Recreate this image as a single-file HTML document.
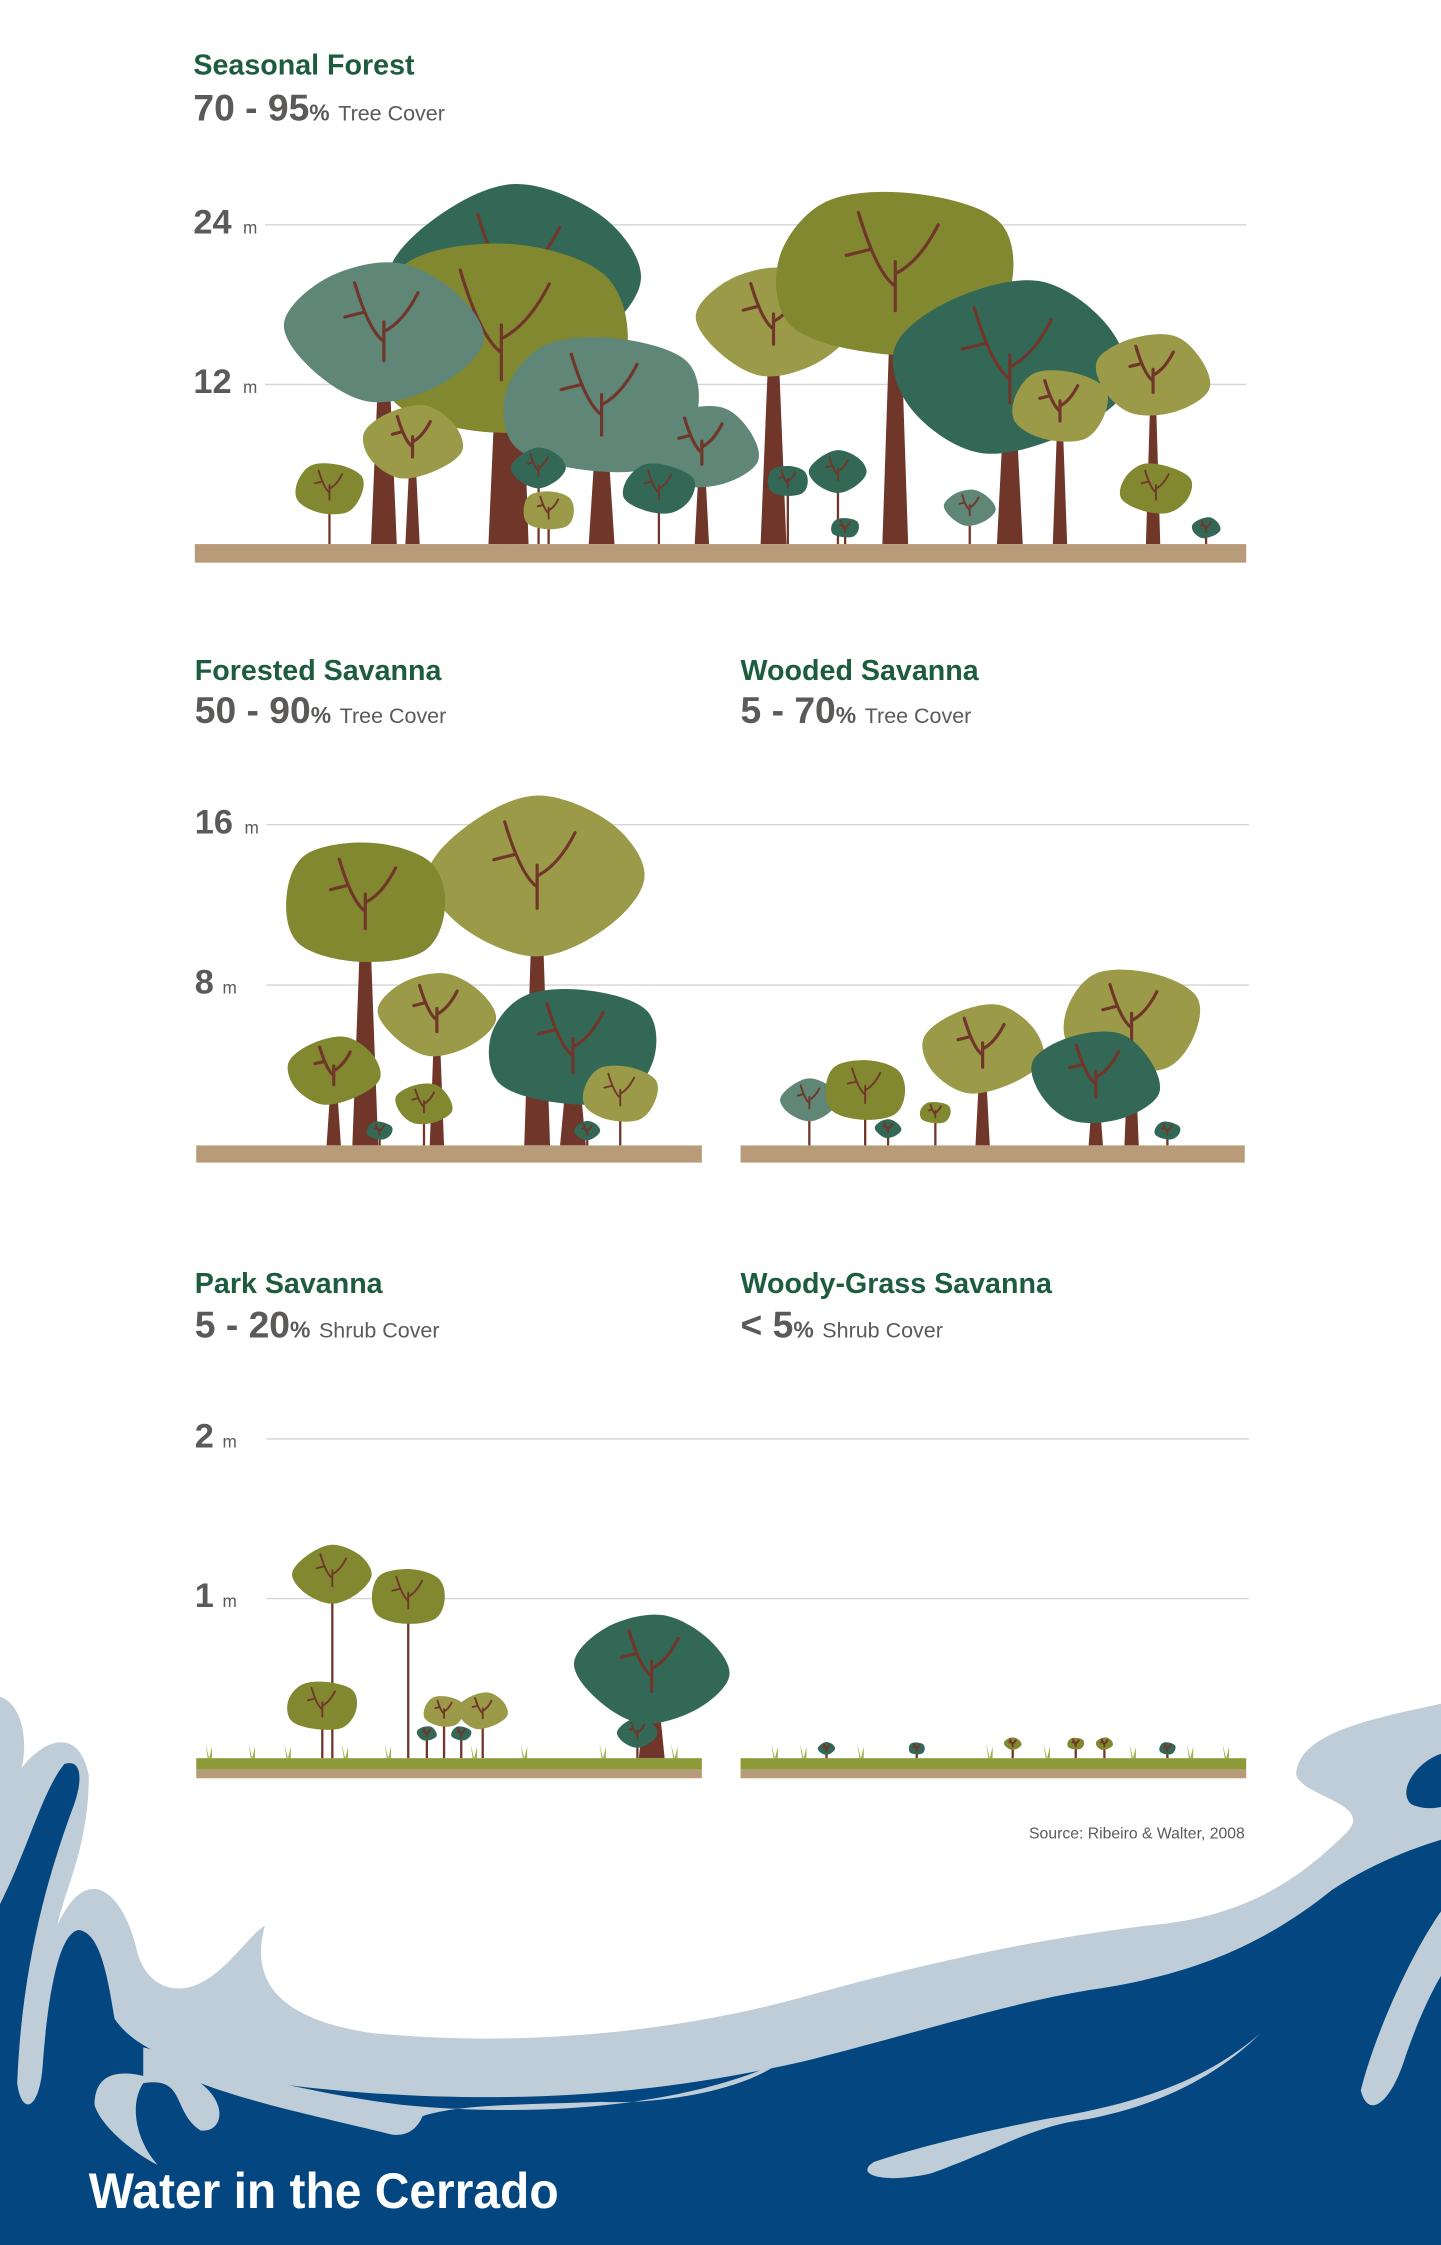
<!DOCTYPE html>
<html><head><meta charset="utf-8">
<style>
html,body{margin:0;padding:0;background:#fff;}
svg{display:block;}
text{font-family:"Liberation Sans",sans-serif;}
</style></head>
<body>
<svg id="main" width="1441" height="2245" viewBox="0 0 1006 1568" preserveAspectRatio="none" xmlns="http://www.w3.org/2000/svg">
  <rect width="1006" height="1568" fill="#fff"/>
  <g>
    <path fill="#bfcdd8" d="M0,1185 C15,1190 20,1215 15,1235 C30,1215 55,1205 62,1240 C62,1290 45,1320 40,1345 C60,1300 85,1320 95,1360 C100,1385 120,1395 140,1385 C160,1375 175,1350 185,1345 C175,1380 190,1410 260,1420 C360,1430 470,1420 560,1395 C650,1370 720,1355 800,1345 C860,1340 900,1320 940,1280 C960,1260 910,1255 905,1240 C905,1210 960,1200 1006,1190 L1006,1568 L0,1568 Z"/>
    <path fill="#04467f" d="M0,1330 C20,1290 30,1250 45,1232 C58,1228 58,1245 50,1265 C30,1320 15,1380 12,1455 C15,1478 28,1475 30,1440 C33,1400 40,1350 55,1348 C70,1350 75,1380 80,1410 C100,1440 160,1455 260,1462 C380,1470 470,1460 560,1440 C640,1420 700,1400 760,1390 C830,1380 880,1360 930,1320 C960,1300 990,1290 1006,1285 L1006,1568 L0,1568 Z"/>
    <path fill="#04467f" d="M1006,1225 C990,1230 975,1250 985,1260 C995,1265 1006,1262 1006,1262 Z"/>
    <path fill="#bfcdd8" d="M1006,1335 C985,1365 960,1420 950,1460 C955,1480 970,1470 980,1440 C990,1410 1000,1390 1006,1380 Z"/>
    <path fill="#bfcdd8" d="M100,1430 C140,1440 200,1460 280,1470 C380,1480 480,1470 545,1440 C520,1460 460,1470 420,1468 C360,1470 320,1470 295,1478 C290,1490 280,1493 270,1490 C230,1480 180,1470 140,1455 C160,1470 155,1490 140,1488 C120,1475 130,1450 100,1455 C90,1470 95,1495 110,1512 C95,1505 70,1485 66,1470 C66,1450 80,1445 100,1450 Z"/>
    <path fill="#bfcdd8" d="M880,1420 C840,1455 790,1470 730,1480 C680,1490 640,1500 610,1510 C595,1520 620,1525 650,1518 C700,1500 720,1485 760,1480 C810,1470 850,1450 880,1420 Z"/>
    <path fill="#bfcdd8" d="M700,1388 C660,1385 620,1390 600,1405 C610,1412 640,1408 670,1400 C690,1395 700,1392 700,1388 Z"/>
    <text x="62" y="1542" fill="#fff" font-size="35" font-weight="bold" textLength="328" lengthAdjust="spacingAndGlyphs">Water in the Cerrado</text>
  </g>

  <g fill="#5b5a59">
    <text x="135" y="52" fill="#1e5c40" font-size="20" font-weight="bold">Seasonal Forest</text>
    <text x="135" y="84"><tspan font-size="26" font-weight="bold">70 - 95</tspan><tspan font-size="16" font-weight="bold">%</tspan><tspan font-size="15" dx="6">Tree Cover</tspan></text>
    <text x="136" y="475" fill="#1e5c40" font-size="20" font-weight="bold">Forested Savanna</text>
    <text x="136" y="505"><tspan font-size="26" font-weight="bold">50 - 90</tspan><tspan font-size="16" font-weight="bold">%</tspan><tspan font-size="15" dx="6">Tree Cover</tspan></text>
    <text x="517" y="475" fill="#1e5c40" font-size="20" font-weight="bold">Wooded Savanna</text>
    <text x="517" y="505"><tspan font-size="26" font-weight="bold">5 - 70</tspan><tspan font-size="16" font-weight="bold">%</tspan><tspan font-size="15" dx="6">Tree Cover</tspan></text>
    <text x="136" y="903" fill="#1e5c40" font-size="20" font-weight="bold">Park Savanna</text>
    <text x="136" y="934"><tspan font-size="26" font-weight="bold">5 - 20</tspan><tspan font-size="16" font-weight="bold">%</tspan><tspan font-size="15" dx="6">Shrub Cover</tspan></text>
    <text x="517" y="903" fill="#1e5c40" font-size="20" font-weight="bold">Woody-Grass Savanna</text>
    <text x="517" y="934"><tspan font-size="26" font-weight="bold">&lt; 5</tspan><tspan font-size="16" font-weight="bold">%</tspan><tspan font-size="15" dx="6">Shrub Cover</tspan></text>
    <text x="869" y="1284" text-anchor="end" font-size="11">Source: Ribeiro &amp; Walter, 2008</text>
  </g>
  <g id="axes"></g>
  <g id="trees"></g>
  <g id="grounds"></g>
</svg>
<script>
const panelTicks1 = [12, 24];
const panelTicks2 = [8, 16];
const panelTicks3 = [1, 2];
const forestHeights = [26.8, 22.8, 21.2, 15.9, 10.4, 6.1, 10.4, 6.1, 7.2, 4.0, 20.8, 26.9, 19.7, 13.1, 15.8, 6.1, 7.0, 5.9, 4.1, 2.0, 2.0];
const forestX       = [360, 350, 268, 420, 288, 230, 490, 460, 376, 383, 540, 625, 705, 740, 805, 807, 585, 550, 677, 590, 842];
const forestW       = [175, 190, 135, 140, 70, 50, 80, 50, 38, 38, 105, 170, 165, 70, 80, 50, 40, 30, 35, 20, 20];
const forestColor   = ['dk','ol','tl','tl','lo','ol','tl','dk','dk','lo','lo','ol','dk','lo','lo','ol','dk','dk','tl','dk','dk'];
const fsHeights = [17.3, 15.2, 8.6, 8.0, 5.4, 4.0, 3.1, 1.2, 1.2];
const fsX       = [375, 255, 305, 400, 233, 433, 296, 265, 410];
const fsW       = [150, 120, 80, 120, 65, 55, 40, 18, 18];
const fsColor   = ['lo','ol','lo','dk','ol','lo','ol','dk','dk'];
const wsHeights = [3.3, 4.3, 1.3, 2.2, 7.0, 8.8, 5.7, 1.2];
const wsX       = [565, 604, 620, 653, 686, 790, 765, 815];
const wsW       = [40, 60, 18, 22, 85, 100, 90, 18];
const wsColor   = ['tl','ol','dk','ol','lo','lo','dk','dk'];
const psHeights = [1.33, 1.19, 0.9, 0.49, 0.41, 0.39, 0.2, 0.2, 0.25];
const psX       = [232, 285, 455, 225, 337, 310, 298, 322, 445];
const psW       = [55, 55, 105, 50, 35, 30, 14, 14, 28];
const psColor   = ['ol','ol','dk','ol','lo','lo','dk','dk','dk'];
const wgHeights = [0.1, 0.1, 0.13, 0.13, 0.13, 0.1];
const wgX       = [577, 640, 707, 751, 771, 815];
const wgW       = [12, 12, 12, 12, 12, 12];
const wgColor   = ['dk','dk','ol','ol','ol','dk'];

const COLORS = {dk:'#336857', ol:'#818830', tl:'#5f8677', lo:'#9a9a48'};
const TRUNK = '#70362a';
const NS = 'http://www.w3.org/2000/svg';
function el(tag, attrs, parent){ const e=document.createElementNS(NS,tag); for(const k in attrs) e.setAttribute(k,attrs[k]); parent.appendChild(e); return e; }

function yScale(ground, topVal, topY){ return v => ground - (ground - topY) * v / topVal; }
const y1 = yScale(380, 24, 157);
const y2 = yScale(800, 16, 576);
const y3 = yScale(1228, 2, 1005);

const axes = document.getElementById('axes');
function drawAxis(ticks, ys, x0, x1){
  ticks.forEach(t => {
    const y = ys(t);
    const ln = el('line', {x1:x0+50, x2:x1, y1:y, y2:y, stroke:'#d4d4d4', 'stroke-width':1}, axes);
    
    
    const tx = el('text', {x:x0, y:y+6, fill:'#5b5a59', 'font-size':24, 'font-weight':'bold'}, axes);
    
    
    const s1 = el('tspan', {}, tx); s1.textContent = t;
    const s2 = el('tspan', {'font-size':12, 'font-weight':'normal', dx:(t>=10?8:6)}, tx); s2.textContent = 'm';
  });
}
drawAxis(panelTicks1, y1, 135, 870);
drawAxis(panelTicks2, y2, 136, 872);
drawAxis(panelTicks3, y3, 136, 872);

const pattern = [1,0.93,1.04,0.96,1.02,0.92,1.04,0.97];
function blob(cx, cy, rx, ry, seed){
  const pts=[];
  for(let i=0;i<8;i++){
    const a = i*Math.PI/4 + seed*0.06;
    const f = pattern[(i+seed)%8];
    pts.push([cx+Math.cos(a)*rx*f, cy+Math.sin(a)*ry*f]);
  }
  let d = 'M'+pts[0][0].toFixed(1)+','+pts[0][1].toFixed(1);
  for(let i=0;i<8;i++){
    const p0=pts[(i+7)%8], p1=pts[i], p2=pts[(i+1)%8], p3=pts[(i+2)%8];
    const c1=[p1[0]+(p2[0]-p0[0])/6, p1[1]+(p2[1]-p0[1])/6];
    const c2=[p2[0]-(p3[0]-p1[0])/6, p2[1]-(p3[1]-p1[1])/6];
    d+=' C'+c1[0].toFixed(1)+','+c1[1].toFixed(1)+' '+c2[0].toFixed(1)+','+c2[1].toFixed(1)+' '+p2[0].toFixed(1)+','+p2[1].toFixed(1);
  }
  return d+'Z';
}

const treesG = document.getElementById('trees');
function drawTrees(heights, xs, ws, cols, ys, ground, panel){
  heights.forEach((h,i) => {
    const top = ys(h), w = ws[i], x = xs[i];
    const ch = Math.min(w*0.72, (ground-top)*0.85);
    const cy = top + ch/2;
    const g = el('g', {}, treesG);
    
    
    const tw = w > 100 ? 9 : (w > 60 ? 5 : 1.6);
    if (tw > 2) {
      el('path', {d:`M${x-tw},${ground} L${x-tw*0.3},${cy} L${x+tw*0.3},${cy} L${x+tw},${ground}Z`, fill:TRUNK}, g);
    } else {
      el('line', {x1:x, y1:ground, x2:x, y2:cy, stroke:TRUNK, 'stroke-width':1.6}, g);
    }
    el('path', {d:blob(x, cy, w/2, ch/2, i%8), fill:COLORS[cols[i]]}, g);
    const bl = ch*0.35;
    el('path', {d:`M${x},${cy+bl*0.6} L${x},${cy-bl*0.2} M${x},${cy+bl*0.2} Q${x-bl*0.3},${cy} ${x-bl*0.6},${cy-bl} M${x},${cy} Q${x+bl*0.4},${cy-bl*0.2} ${x+bl*0.7},${cy-bl*0.8} M${x-bl*0.4},${cy-bl*0.4} L${x-bl*0.8},${cy-bl*0.3}`,
      fill:'none', stroke:TRUNK, 'stroke-width': w>60?2.2:1.3, 'stroke-linecap':'round'}, g);
  });
}
drawTrees(forestHeights, forestX, forestW, forestColor, y1, 380, 'seasonal-forest');
drawTrees(fsHeights, fsX, fsW, fsColor, y2, 800, 'forested-savanna');
drawTrees(wsHeights, wsX, wsW, wsColor, y2, 800, 'wooded-savanna');
drawTrees(psHeights, psX, psW, psColor, y3, 1228, 'park-savanna');
drawTrees(wgHeights, wgX, wgW, wgColor, y3, 1228, 'woody-grass-savanna');

const gr = document.getElementById('grounds');
function ground(x, y, w, h, color, name){
  const r = el('rect', {x:x, y:y, width:w, height:h, fill:color}, gr);
  
  
}
ground(136, 380, 734, 13, '#b89c7a', 'seasonal-forest-ground');
ground(137, 800, 353, 12, '#b89c7a', 'forested-savanna-ground');
ground(517, 800, 352, 12, '#b89c7a', 'wooded-savanna-ground');
ground(137, 1228, 353, 8, '#8d9a3a', 'park-savanna-grass');
ground(137, 1236, 353, 6, '#b89c7a', 'park-savanna-ground');
ground(517, 1228, 353, 8, '#8d9a3a', 'woody-grass-savanna-grass');
ground(517, 1236, 353, 6, '#b89c7a', 'woody-grass-savanna-ground');
[145,175,200,240,270,330,365,420,470,540,560,600,690,730,790,830,855].forEach(x=>{
  const t = el('path', {d:`M${x},1228 L${x-1.5},1218 L${x+1},1228 L${x+3},1220 L${x+3},1228Z`, fill:'#a3b04a'}, gr);
  
  
});
</script>
</body></html>
